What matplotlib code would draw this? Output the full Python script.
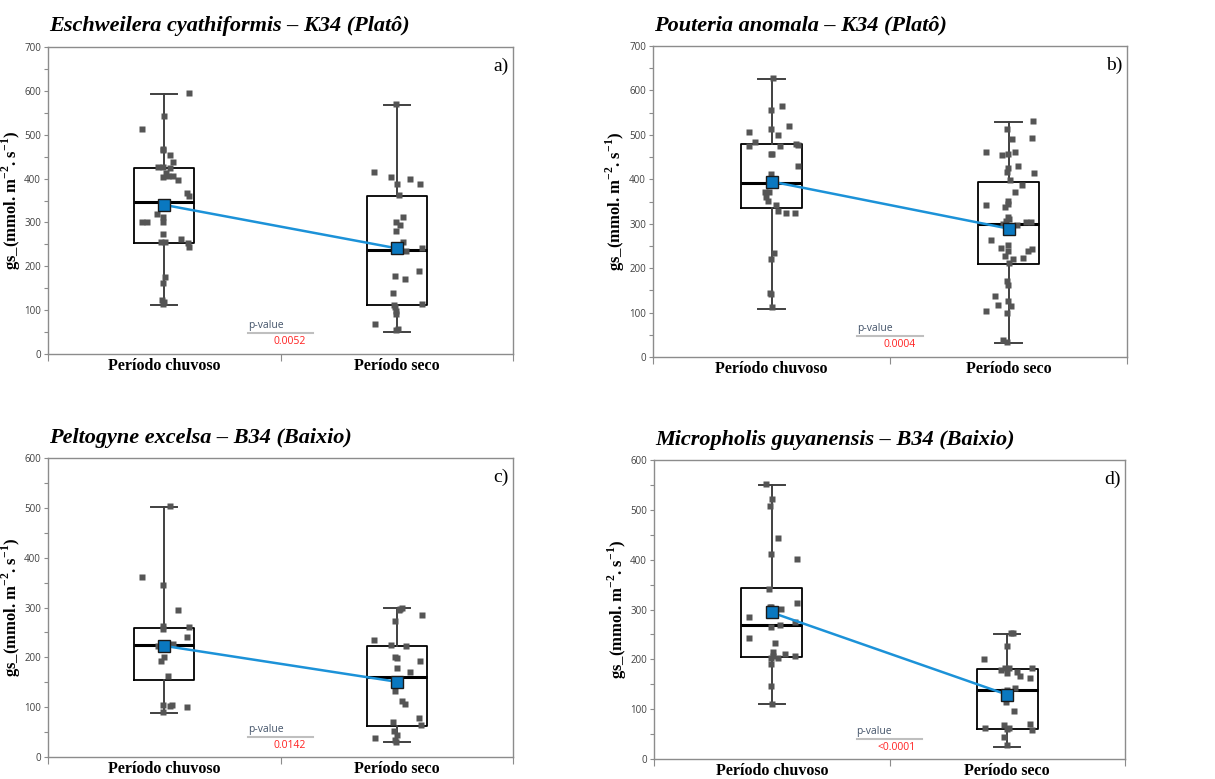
import numpy as np
import matplotlib.pyplot as plt

plt.rcParams['font.family'] = ['Liberation Serif', 'DejaVu Serif']
plt.rcParams['mathtext.fontset'] = 'custom'
plt.rcParams['mathtext.rm'] = 'Liberation Serif'
plt.rcParams['mathtext.bf'] = 'Liberation Serif:bold'

cats = ['Período chuvoso', 'Período seco']
titles = ['Eschweilera cyathiformis – K34 (Platô)',
	'Pouteria anomala – K34 (Platô)',
	'Peltogyne excelsa – B34 (Baixio)',
	'Micropholis guyanensis – B34 (Baixio)']
tags = ['a)', 'b)', 'c)', 'd)']
p_values = ['0.0052', '0.0004', '0.0142', '<0.0001']
y_tops = [700, 700, 600, 600]

# box stats: whislo, q1, med, q3, whishi, mean
a_box_rain = [111, 252, 347, 423, 593, 340]
a_box_dry = [51, 111, 237, 361, 567, 241]
b_box_rain = [109, 335, 391, 479, 626, 395]
b_box_dry = [31, 210, 299, 393, 530, 289]
c_box_rain = [88, 155, 225, 258, 501, 223]
c_box_dry = [30, 62, 161, 223, 298, 151]
d_box_rain = [110, 205, 268, 344, 550, 294]
d_box_dry = [25, 60, 139, 181, 251, 129]

# individual points (value, horizontal jitter)
a_rain = [596, 543, 514, 468, 466, 453, 438, 426, 426, 423, 412, 404, 406, 406, 397, 368, 361,
	340, 319, 312, 302, 300, 300, 273, 255, 255, 262, 253, 243, 175, 162, 122, 118, 115]
a_rain_jit = [0.106, 0.001, -0.097, -0.006, -0.006, 0.026, 0.039, -0.026, -0.004, 0.024, 0.006,
	-0.006, 0.016, 0.036, 0.059, 0.097, 0.106, -0.009, -0.032, -0.006, -0.006, -0.097, -0.073,
	-0.004, -0.014, 0.004, 0.073, 0.100, 0.105, 0.004, -0.006, -0.009, -0.003, -0.004]
a_dry = [569, 414, 403, 399, 388, 388, 363, 312, 300, 293, 281, 255, 240, 234, 241, 190, 177,
	171, 140, 112, 108, 99, 91, 114, 69, 58, 54]
a_dry_jit = [-0.003, -0.097, -0.023, 0.059, 0.0, 0.099, 0.009, 0.026, -0.003, 0.016, -0.003,
	0.026, 0.0, 0.039, 0.108, 0.096, -0.006, 0.036, -0.014, -0.010, -0.006, -0.003, -0.003,
	0.108, -0.095, 0.004, -0.003]

b_rain = [629, 565, 556, 519, 513, 506, 499, 483, 475, 475, 479, 478, 458, 456, 429, 412, 395,
	393, 372, 372, 360, 351, 341, 329, 324, 324, 234, 221, 144, 141, 112]
b_rain_jit = [0.007, 0.044, -0.003, 0.072, -0.003, -0.096, 0.027, -0.069, -0.097, 0.037, 0.105,
	0.111, -0.003, 0.001, 0.110, -0.003, -0.006, -0.003, -0.028, -0.010, -0.025, -0.013, 0.017,
	0.028, 0.060, 0.098, 0.010, -0.003, -0.008, -0.004, 0.0]
b_dry = [532, 513, 493, 490, 461, 455, 457, 461, 429, 426, 416, 414, 399, 388, 372, 351, 345,
	341, 338, 316, 311, 305, 300, 298, 303, 304, 283, 263, 252, 245, 238, 228, 220, 223, 238,
	243, 211, 170, 163, 138, 116, 127, 114, 100, 103, 39, 33]
b_dry_jit = [0.105, -0.007, 0.098, 0.013, -0.097, -0.027, -0.003, 0.027, 0.039, -0.003, -0.006,
	0.108, 0.007, 0.056, 0.027, -0.004, -0.003, -0.097, -0.013, -0.003, 0.003, -0.011, -0.024,
	0.035, 0.072, 0.096, -0.003, -0.072, -0.003, -0.032, -0.003, -0.013, 0.018, 0.062, 0.082,
	0.101, 0.003, -0.007, -0.001, -0.056, -0.044, -0.003, 0.011, -0.006, -0.097, -0.023, -0.006]

c_rain = [503, 361, 345, 294, 263, 256, 261, 241, 227, 222, 228, 217, 201, 193, 163, 105, 105,
	102, 101, 90]
c_rain_jit = [0.026, -0.097, -0.004, 0.060, -0.004, -0.004, 0.106, 0.099, 0.039, -0.027, -0.010,
	0.001, 0.001, -0.014, 0.016, -0.004, 0.034, 0.026, 0.097, -0.007]
c_dry = [300, 294, 296, 285, 273, 234, 224, 222, 201, 198, 192, 179, 171, 156, 133, 113, 106,
	79, 64, 70, 52, 45, 39, 35, 31]
c_dry_jit = [0.024, 0.009, 0.014, 0.109, -0.006, -0.097, -0.023, 0.039, -0.006, 0.001, 0.099,
	-0.001, 0.059, -0.006, -0.006, 0.024, 0.036, 0.096, 0.106, -0.014, -0.010, 0.003, -0.095,
	-0.006, -0.003]

d_rain = [552, 522, 508, 443, 412, 402, 341, 306, 306, 302, 313, 285, 274, 265, 268, 242, 232,
	215, 203, 203, 206, 210, 207, 191, 146, 111]
d_rain_jit = [-0.025, 0.003, -0.008, 0.027, -0.003, 0.109, -0.013, -0.008, -0.003, 0.040, 0.108,
	-0.096, 0.099, -0.003, 0.037, -0.098, 0.014, 0.004, -0.003, 0.025, 0.004, 0.058, 0.100,
	-0.004, -0.003, 0.0]
d_dry = [252, 252, 227, 201, 178, 183, 183, 174, 183, 166, 163, 173, 143, 138, 126, 114, 96, 62,
	69, 61, 62, 71, 58, 44, 28]
d_dry_jit = [0.014, 0.025, -0.003, -0.099, -0.025, -0.011, 0.007, 0.041, 0.106, 0.055, 0.098,
	-0.001, 0.033, 0.0, -0.001, -0.004, 0.027, -0.096, -0.013, -0.001, 0.006, 0.095, 0.106,
	-0.013, -0.001]

boxes = [(a_box_rain, a_box_dry), (b_box_rain, b_box_dry), (c_box_rain, c_box_dry), (d_box_rain, d_box_dry)]
points = [((a_rain, a_rain_jit), (a_dry, a_dry_jit)),
	((b_rain, b_rain_jit), (b_dry, b_dry_jit)),
	((c_rain, c_rain_jit), (c_dry, c_dry_jit)),
	((d_rain, d_rain_jit), (d_dry, d_dry_jit))]

# axes rectangles in pixels: left, top, right, bottom
W, H = 1215, 779
rects = [(48, 47, 513, 354), (653, 46, 1127, 357), (48, 458, 513, 757), (654, 460, 1125, 759)]

GRID = '#8c8c8c'

def to_stats(b):
	lo, q1, med, q3, hi, mean = b
	return dict(whislo=lo, q1=q1, med=med, q3=q3, whishi=hi, mean=mean, fliers=[])

def draw_panel(ax, i):
	stats = [to_stats(b) for b in boxes[i]]
	ax.bxp(stats, positions=[1, 2], widths=0.26, capwidths=0.11, showfliers=False,
		boxprops=dict(color='black', lw=1.3),
		whiskerprops=dict(color='#404040', lw=1.4),
		capprops=dict(color='#404040', lw=1.4),
		medianprops=dict(color='black', lw=2.2), zorder=2)

	for k, (vals, jit) in enumerate(points[i]):
		xs = (k + 1) + np.array(jit)
		ax.plot(xs, vals, 's', ms=3.8, color='#555555', mec='none', zorder=3)

	means = [b[5] for b in boxes[i]]
	ax.plot([1, 2], means, '-', color='#1c92d8', lw=1.8, zorder=4)
	ax.plot([1, 2], means, 's', ms=8.5, color='#0a78c0', mec='#1a1a1a', mew=1.0, zorder=5)

	ax.set_xlim(0.5, 2.5)
	ax.set_ylim(0, y_tops[i])
	ax.set_yticks(np.arange(0, y_tops[i] + 1, 100))
	ax.set_yticks(np.arange(50, y_tops[i], 100), minor=True)
	ax.tick_params(axis='y', which='both', direction='out', length=3, width=0.8,
		color=GRID, labelsize=7, labelcolor='#404040', pad=2)
	for lab in ax.get_yticklabels():
		lab.set_fontfamily('Open Sans')

	ax.set_xticks([0.5, 1.5, 2.5])
	ax.set_xticklabels([])
	ax.set_xticks([1, 2], minor=True)
	ax.set_xticklabels(cats, minor=True, fontsize=11.5, fontweight='bold')
	ax.tick_params(axis='x', which='major', direction='out', length=5, color=GRID)
	ax.tick_params(axis='x', which='minor', length=0, pad=3)

	for s in ax.spines.values():
		s.set_color(GRID)
		s.set_linewidth(1.0)

	ax.set_ylabel(r'gs_(mmol. m$^{\mathbf{-2}}$. s$^{\mathbf{-1}}$)', fontsize=12,
		fontweight='bold')
	ax.yaxis.set_label_coords(-0.054, 0.5)
	ax.text(0.99, 0.965, tags[i], transform=ax.transAxes, ha='right', va='top', fontsize=14)
	ax.text(0.003, 1.035, titles[i], transform=ax.transAxes, ha='left', va='bottom',
		fontsize=16, fontweight='bold', fontstyle='italic')

	# p-value note
	ax.text(0.43, 0.075, 'p-value', transform=ax.transAxes, ha='left', va='bottom',
		fontsize=7.5, color='#44546a', family='Open Sans')
	ax.plot([0.43, 0.57], [0.068, 0.068], transform=ax.transAxes, color='#bfbfbf', lw=1.5)
	ax.text(0.555, 0.04, p_values[i], transform=ax.transAxes, ha='right', va='center',
		fontsize=7.5, color='#ff2020', family='Open Sans')

fig = plt.figure(figsize=(W / 100, H / 100), dpi=100)
for i, (l, t, r, b) in enumerate(rects):
	ax = fig.add_axes([l / W, 1 - b / H, (r - l) / W, (b - t) / H])
	draw_panel(ax, i)

fig.savefig('out.png', dpi=100)
